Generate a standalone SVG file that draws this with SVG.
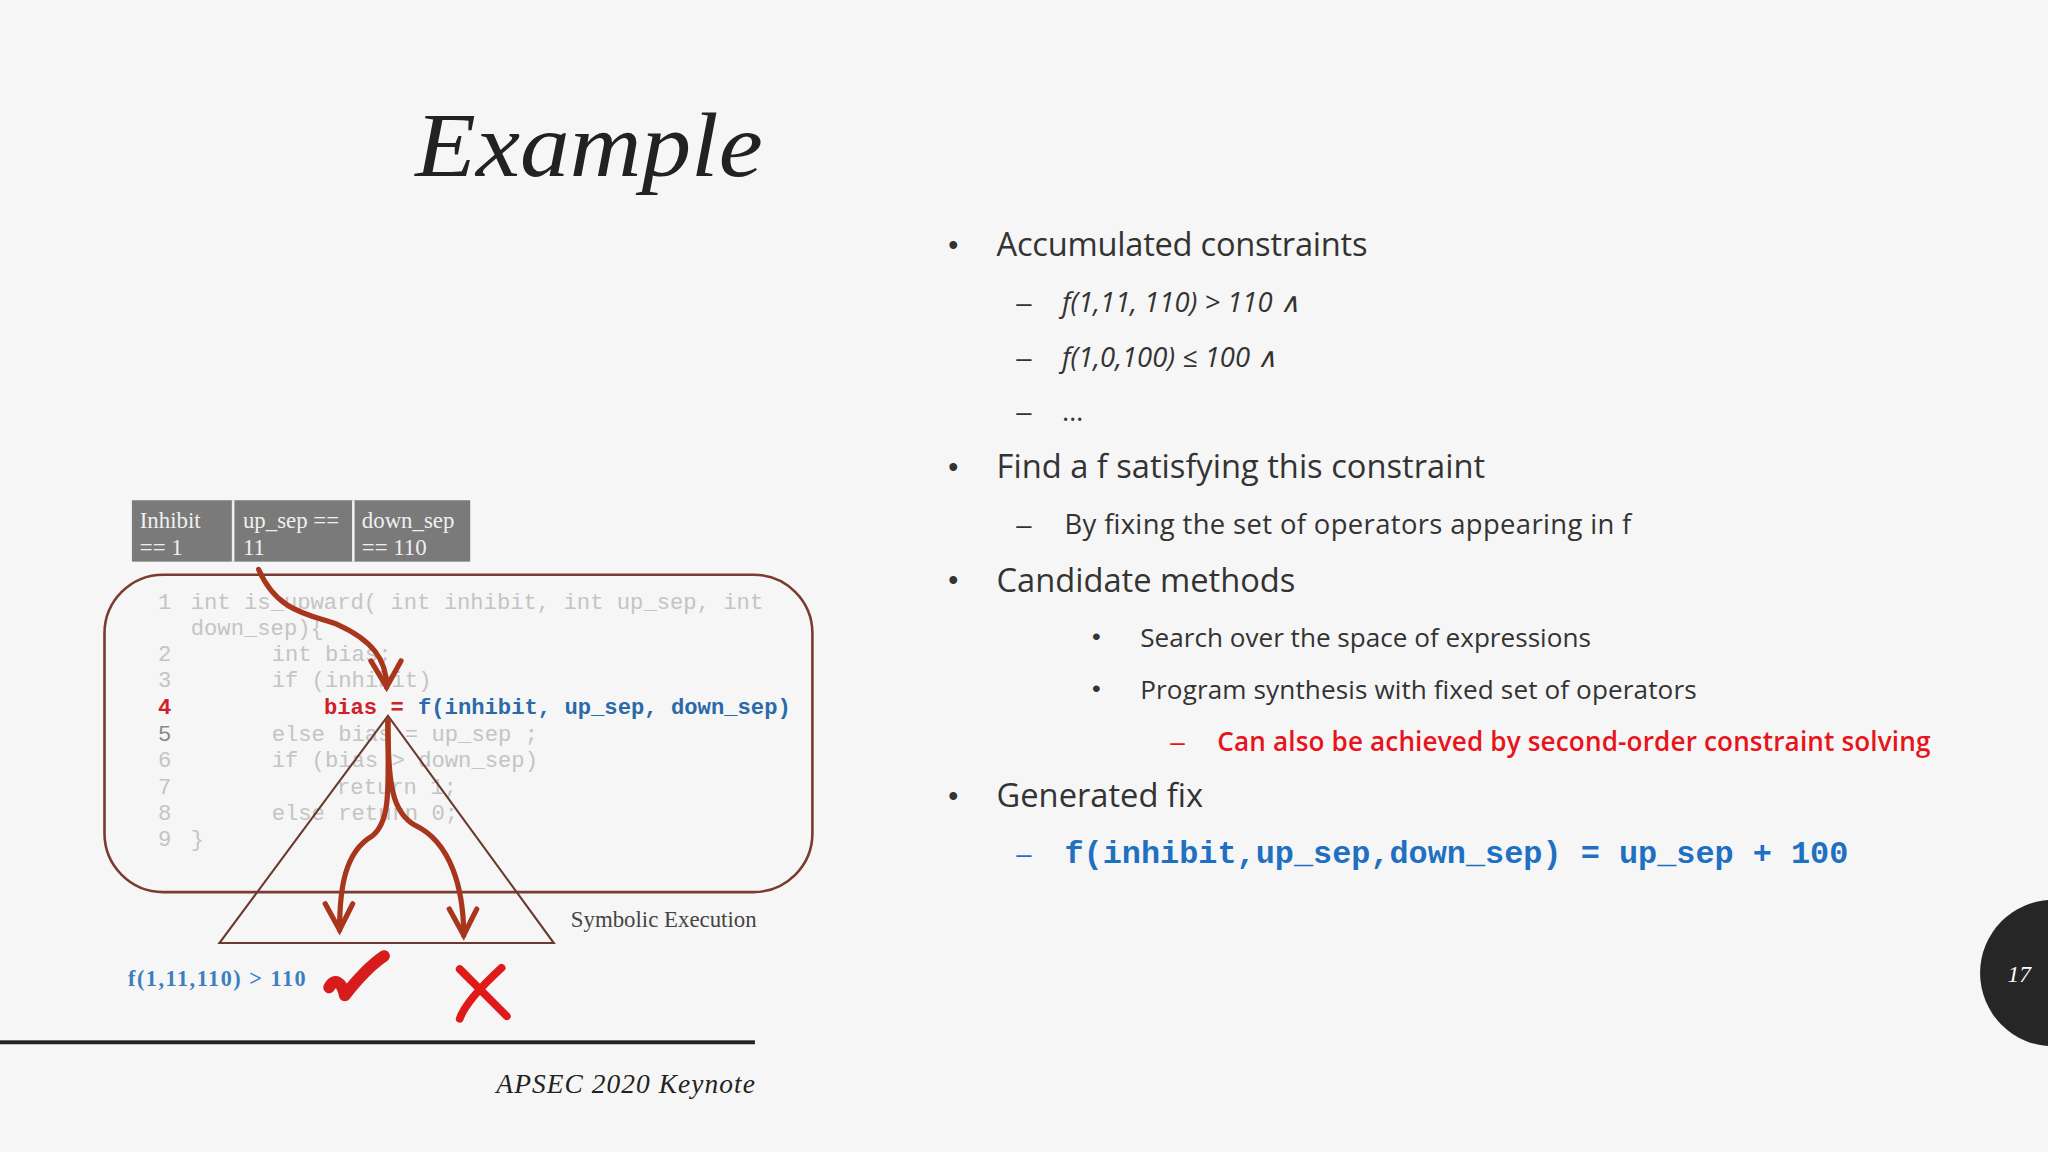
<svg xmlns="http://www.w3.org/2000/svg" width="2048" height="1152" viewBox="0 0 2048 1152">
<defs>
<style>
.b{font-family:"Open Sans","Liberation Sans",sans-serif;fill:#333;font-weight:400}
.d{font-family:"Liberation Sans",sans-serif;fill:#333}
.code{font-family:"Liberation Mono",monospace;font-size:17px;fill:#c4c4c4}
.hd{font-family:"Liberation Serif",serif;font-size:17.5px;fill:#f0f0f0}
.arr{fill:none;stroke:#a8361c;stroke-width:4;stroke-linecap:round}
</style>
</defs>
<rect width="2048" height="1152" fill="#f6f6f6"/>
<g transform="scale(1.30612)">
<text x="318" y="135" font-family="Liberation Serif,serif" font-style="italic" font-size="70" fill="#222" textLength="266" lengthAdjust="spacingAndGlyphs">Example</text>

<g id="bullets">
<text class="d" x="726" y="195" font-size="22">•</text>
<text class="b" x="763" y="196" font-size="25" font-weight="300" textLength="284">Accumulated constraints</text>
<text class="d" x="778" y="239" font-size="21">–</text>
<text class="b" x="813" y="239" font-size="21" font-style="italic" font-weight="300">f(1,11, 110) &gt; 110 ∧</text>
<text class="d" x="778" y="281" font-size="21">–</text>
<text class="b" x="813" y="281" font-size="21" font-style="italic" font-weight="300">f(1,0,100) ≤ 100 ∧</text>
<text class="d" x="778" y="322" font-size="21">–</text>
<text class="b" x="813" y="322" font-size="21">…</text>
<text class="d" x="726" y="365" font-size="22">•</text>
<text class="b" x="763" y="366" font-size="25" font-weight="300" textLength="374">Find a f  satisfying this constraint</text>
<text class="d" x="778" y="409" font-size="21">–</text>
<text class="b" x="815" y="409" font-size="21" font-weight="300" textLength="434">By fixing the set of operators appearing in f</text>
<text class="d" x="726" y="452" font-size="22">•</text>
<text class="b" x="763" y="453" font-size="25" font-weight="300">Candidate methods</text>
<text class="d" x="836" y="494" font-size="19">•</text>
<text class="b" x="873" y="495" font-size="20" font-weight="300" textLength="345">Search over the space of expressions</text>
<text class="d" x="836" y="534" font-size="19">•</text>
<text class="b" x="873" y="535" font-size="20" font-weight="300" textLength="426">Program synthesis with fixed set of operators</text>
<text x="896" y="575" font-size="20" font-family="Liberation Sans,sans-serif" fill="#e8141c">–</text>
<text x="932" y="575" font-size="20" font-family="Open Sans,Liberation Sans,sans-serif" font-weight="600" fill="#e8141c" textLength="546">Can also be achieved by second-order constraint solving</text>
<text class="d" x="726" y="617" font-size="22">•</text>
<text class="b" x="763" y="618" font-size="25" font-weight="300">Generated fix</text>
<text x="778" y="661" font-size="21" font-family="Liberation Sans,sans-serif" fill="#1f70c1">–</text>
<text x="815" y="661" font-size="24.4" font-family="Liberation Mono,monospace" font-weight="bold" fill="#1f70c1">f(inhibit,up_sep,down_sep) = up_sep + 100</text>
</g>

<g id="page">
<circle cx="1572" cy="745" r="56" fill="#262626"/>
<text x="1537" y="752" font-family="Liberation Serif,serif" font-style="italic" font-size="18" fill="#fff">17</text>
</g>
<rect x="0" y="796.5" width="578" height="3" fill="#222"/>
<text x="578" y="837" text-anchor="end" font-family="Liberation Serif,serif" font-style="italic" font-size="21" fill="#222" textLength="198">APSEC 2020 Keynote</text>

<g id="header">
<rect x="101" y="383" width="259" height="47" fill="#7a7a7a"/>
<line x1="178.5" y1="383" x2="178.5" y2="430" stroke="#eee" stroke-width="2"/>
<line x1="270.5" y1="383" x2="270.5" y2="430" stroke="#eee" stroke-width="2"/>
<text class="hd" x="107" y="404">Inhibit</text><text class="hd" x="107" y="425">== 1</text>
<text class="hd" x="186" y="404">up_sep ==</text><text class="hd" x="186" y="425">11</text>
<text class="hd" x="277" y="404">down_sep</text><text class="hd" x="277" y="425">== 110</text>
</g>

<g id="code">
<rect x="80" y="440" width="542" height="243" rx="45" fill="none" stroke="#7a3b30" stroke-width="2"/>
<text class="code" x="121" y="466">1</text><text class="code" x="146" y="466">int is_upward( int inhibit, int up_sep, int</text>
<text class="code" x="146" y="486">down_sep){</text>
<text class="code" x="121" y="506">2</text><text class="code" x="208" y="506">int bias;</text>
<text class="code" x="121" y="526">3</text><text class="code" x="208" y="526">if (inhibit)</text>
<text x="121" y="547" font-family="Liberation Mono,monospace" font-size="17" font-weight="bold" fill="#d0202a">4</text>
<text x="248" y="547" font-family="Liberation Mono,monospace" font-size="17" font-weight="bold" fill="#d0202a">bias =</text>
<text x="320" y="547" font-family="Liberation Mono,monospace" font-size="17" font-weight="bold" fill="#2a6aa8">f(inhibit, up_sep, down_sep)</text>
<text class="code" x="121" y="567" style="fill:#888">5</text><text class="code" x="208" y="567">else  bias = up_sep ;</text>
<text class="code" x="121" y="587">6</text><text class="code" x="208" y="587">if (bias &gt; down_sep)</text>
<text class="code" x="121" y="608">7</text><text class="code" x="258" y="608">return 1;</text>
<text class="code" x="121" y="628">8</text><text class="code" x="208" y="628">else return 0;</text>
<text class="code" x="121" y="648">9</text><text class="code" x="146" y="648">}</text>
</g>

<g id="triangle">
<polygon points="297,548 168,722 424,722" fill="none" stroke="#6b3a2e" stroke-width="1.6"/>
<text x="437" y="710" font-family="Liberation Serif,serif" font-size="17.5" fill="#444">Symbolic Execution</text>
</g>

<g id="connectors">
<path class="arr" d="M198,436 C212,468 235,470 258,478 C285,490 296,505 296,526"/>
<path class="arr" d="M284,506 L296,526 L307,506"/>
<path class="arr" d="M297,552 C297,600 300,628 285,640 C264,652 260,680 260,712"/>
<path class="arr" d="M249,692 L260,712 L270,692"/>
<path class="arr" d="M297,552 C297,600 300,622 318,632 C345,645 355,680 355,716"/>
<path class="arr" d="M344,696 L355,716 L365,696"/>
</g>

<g id="result">
<text x="98" y="755" font-family="Liberation Serif,serif" font-weight="bold" font-size="17" fill="#3b7fc0" textLength="136">f(1,11,110) &gt; 110</text>
<path d="M252,756 C256,748 262,752 264,762 C275,748 285,738 294,732" fill="none" stroke="#d81c1c" stroke-width="9" stroke-linecap="round" stroke-linejoin="round"/>
<path d="M352,742 L388,778 M384,741 C372,752 356,768 352,780" fill="none" stroke="#e01a1a" stroke-width="6" stroke-linecap="round"/>
</g>
</g>
</svg>
